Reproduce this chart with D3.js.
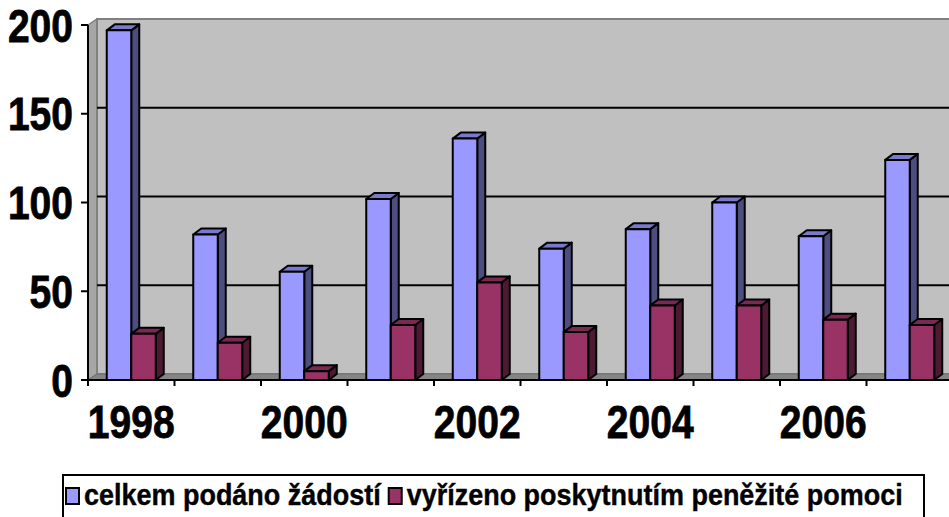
<!DOCTYPE html>
<html>
<head>
<meta charset="utf-8">
<script src="https://cdn.jsdelivr.net/npm/d3@7"></script>
<style>
  body { margin: 0; background: #fff; }
  svg { display: block; }
</style>
</head>
<body>
<div id="chart"></div>
<script>
// data
const years = [1998, 1999, 2000, 2001, 2002, 2003, 2004, 2005, 2006, 2007];
const submitted = [197, 82, 61, 102, 136, 74, 85, 100, 81, 124];
const granted = [26, 21, 5, 31, 55, 27, 42, 42, 34, 31];
const seriesNames = ["celkem podáno žádostí", "vyřízeno poskytnutím peněžité pomoci"];
const yTicks = [0, 50, 100, 150, 200];
const yearLabels = [1998, 2000, 2002, 2004, 2006];

const width = 949;
const height = 517;
const font = "Arial, 'Liberation Sans', sans-serif";

// fake 3d offsets
const wallDx = 9, wallDy = -6;
const barDx = 8, barDy = -6;

const colors = [
  { front: "#9999ff", top: "#7a7acc", side: "#4d4d80" },
  { front: "#993366", top: "#7a2952", side: "#4d1a33" }
];

const left = 88;
const step = 86.5;

const x = d3.scaleBand()
  .domain(years)
  .range([left, left + step * years.length])
  .paddingInner(0.4335)
  .paddingOuter(0.4335 / 2);

const xInner = d3.scaleBand()
  .domain([0, 1])
  .range([0, x.bandwidth()]);

const y = d3.scaleLinear()
  .domain([0, 200])
  .range([380, 25]);

const svg = d3.select("#chart").append("svg")
  .attr("width", width)
  .attr("height", height)
  .style("font-family", font);

const right = width + 20;
const y0 = y(0), yTop = y(200);

// side wall
svg.append("path")
  .attr("d", `M${left},${yTop}L${left + wallDx},${yTop + wallDy}L${left + wallDx},${y0 + wallDy}L${left},${y0}Z`)
  .attr("fill", "#a6a6a6")
  .attr("stroke", "#808080")
  .attr("stroke-width", 1.5);

// back wall
svg.append("rect")
  .attr("x", left + wallDx)
  .attr("y", yTop + wallDy)
  .attr("width", right - left - wallDx)
  .attr("height", y0 - yTop)
  .attr("fill", "#c0c0c0")
  .attr("stroke", "#808080")
  .attr("stroke-width", 2);

// floor
svg.append("path")
  .attr("d", `M${left},${y0}L${left + wallDx},${y0 + wallDy}L${right},${y0 + wallDy}L${right},${y0}Z`)
  .attr("fill", "#858585")
  .attr("stroke", "#707070")
  .attr("stroke-width", 1);

// gridlines on the back wall
svg.append("g")
  .selectAll("line")
  .data(yTicks.filter(d => d > 0 && d < 200))
  .join("line")
  .attr("x1", left + wallDx)
  .attr("x2", right)
  .attr("y1", d => y(d) + wallDy)
  .attr("y2", d => y(d) + wallDy)
  .attr("stroke", "#000")
  .attr("stroke-width", 2);

// bars
const rows = years.map((yr, i) => ({ year: yr, values: [submitted[i], granted[i]] }));

const bar = svg.append("g")
  .selectAll("g")
  .data(rows.flatMap(r => r.values.map((v, s) => ({ year: r.year, s, v }))))
  .join("g")
  .attr("stroke", "#000")
  .attr("stroke-width", 2)
  .attr("stroke-linejoin", "round");

bar.each(function (d) {
  const g = d3.select(this);
  const x0 = x(d.year) + xInner(d.s);
  const x1 = x0 + xInner.bandwidth();
  const top = y(d.v);
  const c = colors[d.s];
  g.append("path")
    .attr("d", `M${x1},${top}L${x1 + barDx},${top + barDy}L${x1 + barDx},${y0 + barDy}L${x1},${y0}Z`)
    .attr("fill", c.side);
  g.append("path")
    .attr("d", `M${x0},${top}L${x0 + barDx},${top + barDy}L${x1 + barDx},${top + barDy}L${x1},${top}Z`)
    .attr("fill", c.top);
  g.append("rect")
    .attr("x", x0)
    .attr("y", top)
    .attr("width", x1 - x0)
    .attr("height", y0 - top)
    .attr("fill", c.front);
});

// y axis
svg.append("line")
  .attr("x1", left).attr("x2", left)
  .attr("y1", yTop).attr("y2", y0)
  .attr("stroke", "#000").attr("stroke-width", 2);

svg.append("g")
  .selectAll("line")
  .data(yTicks)
  .join("line")
  .attr("x1", left - 7).attr("x2", left)
  .attr("y1", d => y(d)).attr("y2", d => y(d))
  .attr("stroke", "#000").attr("stroke-width", 2);

svg.append("g")
  .selectAll("text")
  .data(yTicks)
  .join("text")
  .attr("transform", d => `translate(73,${y(d) + 16.5}) scale(0.83,1)`)
  .attr("text-anchor", "end")
  .attr("font-size", 47)
  .attr("font-weight", "bold")
  .attr("stroke", "#000")
  .attr("stroke-width", 0.8)
  .text(d => d);

// x axis
svg.append("line")
  .attr("x1", left).attr("x2", right)
  .attr("y1", y0).attr("y2", y0)
  .attr("stroke", "#000").attr("stroke-width", 2);

svg.append("g")
  .selectAll("line")
  .data(d3.range(years.length + 1))
  .join("line")
  .attr("x1", i => left + i * x.step())
  .attr("x2", i => left + i * x.step())
  .attr("y1", y0).attr("y2", y0 + 6)
  .attr("stroke", "#000").attr("stroke-width", 2);

svg.append("g")
  .selectAll("text")
  .data(yearLabels)
  .join("text")
  .attr("transform", d => `translate(${x(d) + x.bandwidth() / 2},438) scale(0.83,1)`)
  .attr("text-anchor", "middle")
  .attr("font-size", 47)
  .attr("font-weight", "bold")
  .attr("stroke", "#000")
  .attr("stroke-width", 0.8)
  .text(d => d);

// legend
const legend = svg.append("g");
legend.append("rect")
  .attr("x", 63).attr("y", 475)
  .attr("width", 861).attr("height", 60)
  .attr("fill", "#fff")
  .attr("stroke", "#000").attr("stroke-width", 2);

let lx = 66;
seriesNames.forEach((name, i) => {
  legend.append("rect")
    .attr("x", lx).attr("y", 488)
    .attr("width", 13).attr("height", 16)
    .attr("fill", colors[i].front)
    .attr("stroke", "#000").attr("stroke-width", 2);
  const t = legend.append("text")
    .attr("transform", `translate(${lx + 18},505) scale(0.93,1)`)
    .attr("font-size", 29)
    .attr("font-weight", "bold")
    .attr("stroke", "#000")
    .attr("stroke-width", 0.4)
    .text(name);
  lx += 18 + t.node().getComputedTextLength() * 0.93 + 8;
});
</script>
</body>
</html>
